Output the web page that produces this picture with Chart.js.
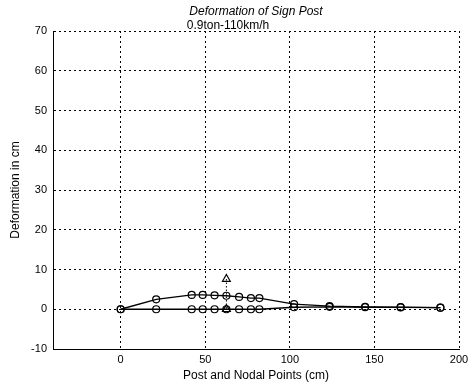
<!DOCTYPE html>
<html>
<head>
<meta charset="utf-8">
<script src="https://cdn.jsdelivr.net/npm/chart.js@4/dist/chart.umd.min.js"></script>
<style>
  html, body { margin: 0; padding: 0; background: #fff; }
  #wrap { width: 473px; height: 383px; position: relative; }
</style>
</head>
<body>
<div id="wrap"><canvas id="chart"></canvas></div>
<script>
// node positions along the post (cm)
const nodeX = [0, 21, 42, 48.5, 55.5, 62.5, 70, 77, 82, 102.5, 123.5, 144.5, 165.5, 189];
// deformed shape and original shape (cm)
const deformed = [0, 2.5, 3.6, 3.6, 3.5, 3.4, 3.1, 2.8, 2.8, 1.3, 0.8, 0.6, 0.55, 0.4];
const original = [0, 0, 0, 0, 0, 0, 0, 0, 0, 0.5, 0.6, 0.5, 0.45, 0.4];
// impact point marker
const impactX = [62.5, 62.5];
const impactY = [7.6, 0];

const xTicks = [0, 50, 100, 150, 200];
const yTicks = [-10, 0, 10, 20, 30, 40, 50, 60, 70];

const toPoints = (xs, ys) => xs.map((x, i) => ({ x: x, y: ys[i] }));

const font = { family: 'Liberation Sans, Arial, sans-serif', size: 11 };
const labelFont = { family: 'Liberation Sans, Arial, sans-serif', size: 12 };

const titlePlugin = {
  id: 'titles',
  afterDraw(chart) {
    const ctx = chart.ctx;
    ctx.save();
    ctx.fillStyle = '#000';
    ctx.textBaseline = 'middle';
    ctx.textAlign = 'center';
    ctx.font = 'italic 12px "Liberation Sans", Arial, sans-serif';
    ctx.fillText('Deformation of Sign Post', 256, 12);
    ctx.font = '12px "Liberation Sans", Arial, sans-serif';
    ctx.fillText('0.9ton-110km/h', 228, 26);
    ctx.restore();
  }
};

const marker = {
  pointStyle: 'circle',
  pointRadius: 3.5,
  pointBackgroundColor: 'rgba(255,255,255,0)',
  pointBorderColor: '#000',
  pointBorderWidth: 1.2
};

new Chart(document.getElementById('chart'), {
  type: 'scatter',
  data: {
    datasets: [
      Object.assign({
        data: toPoints(nodeX, deformed),
        showLine: true,
        borderColor: '#000',
        borderWidth: 1.3
      }, marker),
      Object.assign({
        data: toPoints(nodeX, original),
        showLine: true,
        borderColor: '#000',
        borderWidth: 1.3
      }, marker),
      {
        data: toPoints(impactX, impactY),
        showLine: true,
        borderColor: '#000',
        borderWidth: 1,
        borderDash: [1.5, 2],
        pointStyle: 'triangle',
        pointRadius: 4.5,
        pointBackgroundColor: 'rgba(255,255,255,0)',
        pointBorderColor: '#000',
        pointBorderWidth: 1.2
      }
    ]
  },
  options: {
    responsive: true,
    maintainAspectRatio: false,
    animation: false,
    layout: { padding: { left: 0, top: 31, right: 14, bottom: 0 } },
    plugins: {
      legend: { display: false },
      tooltip: { enabled: false }
    },
    scales: {
      x: {
        type: 'linear',
        min: -40,
        max: 200,
        afterBuildTicks(scale) {
          scale.ticks = xTicks.map(v => ({ value: v }));
        },
        afterFit(scale) { scale.height = 34; },
        grid: { color: '#000', lineWidth: 1, drawTicks: false },
        // in v4 border.dash dashes the grid lines, the axis line stays solid
        border: { display: true, color: '#000', width: 1, dash: [2, 3] },
        ticks: { color: '#000', font: font, padding: 4, maxRotation: 0 },
        title: {
          display: true,
          text: 'Post and Nodal Points (cm)',
          color: '#000',
          font: labelFont,
          padding: { top: 0, bottom: 0 }
        }
      },
      y: {
        type: 'linear',
        min: -10,
        max: 70,
        afterBuildTicks(scale) {
          scale.ticks = yTicks.map(v => ({ value: v }));
        },
        afterFit(scale) { scale.width = 53; },
        grid: { color: '#000', lineWidth: 1, drawTicks: false },
        border: { display: true, color: '#000', width: 1, dash: [2, 3] },
        ticks: { color: '#000', font: font, padding: 6 },
        title: {
          display: true,
          text: 'Deformation in cm',
          color: '#000',
          font: labelFont,
          padding: { top: 8, bottom: 0 }
        }
      }
    }
  },
  plugins: [titlePlugin]
});
</script>
</body>
</html>
